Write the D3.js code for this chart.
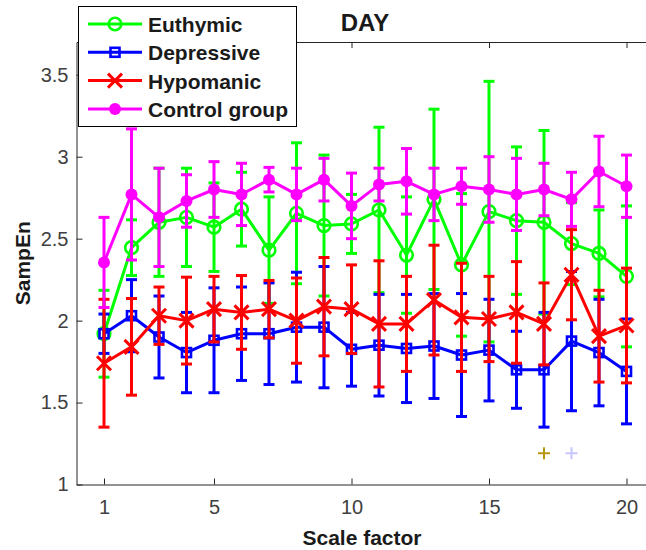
<!DOCTYPE html>
<html>
<head>
<meta charset="utf-8">
<script src="https://cdnjs.cloudflare.com/ajax/libs/d3/7.9.0/d3.min.js"></script>
<style>
  html, body { margin: 0; padding: 0; background: #fff; }
  svg { display: block; font-family: "Liberation Sans", Arial, Helvetica, sans-serif; }
</style>
</head>
<body>
<svg id="chart" width="646" height="550"></svg>
<script>
const W = 646, H = 550;
const AXIS = '#262626';

// scale factors 1..20
const scales = [1, 2, 3, 4, 5, 6, 7, 8, 9, 10, 11, 12, 13, 14, 15, 16, 17, 18, 19, 20];
const xTicks = [1, 5, 10, 15, 20];
const yTicks = [1, 1.5, 2, 2.5, 3, 3.5];

// mean SampEn and error (half length of bar) per group
const euthymicMean = [1.92, 2.445, 2.60, 2.63, 2.57, 2.68, 2.43, 2.655, 2.58, 2.59, 2.675, 2.40, 2.74, 2.34, 2.665, 2.61, 2.60, 2.47, 2.41, 2.27];
const euthymicErr  = [0.265, 0.17, 0.33, 0.30, 0.27, 0.225, 0.325, 0.43, 0.43, 0.18, 0.505, 0.355, 0.55, 0.435, 0.795, 0.45, 0.56, 0.25, 0.265, 0.43];
const depressiveMean = [1.92, 2.03, 1.90, 1.805, 1.88, 1.92, 1.92, 1.96, 1.96, 1.825, 1.85, 1.83, 1.845, 1.79, 1.82, 1.70, 1.70, 1.875, 1.805, 1.69];
const depressiveErr  = [0.12, 0.22, 0.25, 0.245, 0.32, 0.285, 0.31, 0.335, 0.37, 0.225, 0.31, 0.33, 0.32, 0.375, 0.31, 0.235, 0.35, 0.425, 0.325, 0.32];
const hypomanicMean = [1.74, 1.84, 2.03, 2.00, 2.07, 2.05, 2.07, 2.00, 2.085, 2.07, 1.98, 1.98, 2.125, 2.02, 2.01, 2.05, 1.98, 2.28, 1.905, 1.97];
const hypomanicErr  = [0.39, 0.295, 0.175, 0.265, 0.20, 0.225, 0.175, 0.26, 0.30, 0.27, 0.385, 0.29, 0.335, 0.33, 0.26, 0.31, 0.25, 0.275, 0.28, 0.35];
const controlMean = [2.355, 2.77, 2.63, 2.73, 2.80, 2.77, 2.86, 2.77, 2.86, 2.70, 2.83, 2.85, 2.77, 2.82, 2.80, 2.77, 2.80, 2.74, 2.91, 2.82];
const controlErr  = [0.275, 0.40, 0.30, 0.16, 0.17, 0.19, 0.075, 0.16, 0.13, 0.20, 0.10, 0.20, 0.16, 0.11, 0.20, 0.22, 0.16, 0.165, 0.215, 0.19];

// two stray '+' markers near the bottom
const strayX = [17, 18];
const strayY = [1.19, 1.19];
const strayColor = ['#b8970f', '#c8c8ff'];

const groups = [
  { name: 'Euthymic', color: '#00ff00', marker: 'circle', mean: euthymicMean, err: euthymicErr },
  { name: 'Depressive', color: '#0000ff', marker: 'square', mean: depressiveMean, err: depressiveErr },
  { name: 'Hypomanic', color: '#ff0000', marker: 'cross', mean: hypomanicMean, err: hypomanicErr },
  { name: 'Control group', color: '#ff00ff', marker: 'dot', mean: controlMean, err: controlErr },
];

const svg = d3.select('#chart');

const x = d3.scaleLinear().domain([0, 21]).range([76.5, 654]);
const y = d3.scaleLinear().domain([1, 3.7]).range([484.5, 42]);

// axes (ticks point inward, like matlab)
const gx = svg.append('g').attr('transform', `translate(0,${y(1)})`)
  .call(d3.axisBottom(x).tickValues(xTicks).tickFormat(d => String(d))
    .tickSizeInner(-6).tickSizeOuter(0).tickPadding(15));
const gxTop = svg.append('g').attr('transform', `translate(0,${y(3.7)})`)
  .call(d3.axisTop(x).tickValues(xTicks).tickFormat('')
    .tickSizeInner(-6).tickSizeOuter(0));
const gy = svg.append('g').attr('transform', `translate(${x(0)},0)`)
  .call(d3.axisLeft(y).tickValues(yTicks).tickFormat(d => String(d))
    .tickSizeInner(-6).tickSizeOuter(0).tickPadding(8));

[gx, gxTop, gy].forEach(g => {
  g.select('.domain').attr('stroke', AXIS).attr('stroke-width', 1);
  g.selectAll('.tick line').attr('stroke', AXIS).attr('stroke-width', 1);
  g.selectAll('.tick text').attr('fill', '#404040').style('font-size', '20px')
    .style('font-family', '"Liberation Sans", Arial, sans-serif');
});

// title and labels
svg.append('text').attr('x', 365).attr('y', 31).attr('text-anchor', 'middle')
  .attr('font-weight', 'bold').attr('font-size', 24).attr('fill', '#1a1a1a').text('DAY');
svg.append('text').attr('x', 362).attr('y', 545).attr('text-anchor', 'middle')
  .attr('font-weight', 'bold').attr('font-size', 21).attr('fill', '#1a1a1a').text('Scale factor');
svg.append('text').attr('transform', `translate(30,${(y(1) + y(3.7)) / 2}) rotate(-90)`)
  .attr('text-anchor', 'middle').attr('font-weight', 'bold').attr('font-size', 21)
  .attr('fill', '#1a1a1a').text('SampEn');

function drawMarker(sel, type, color) {
  if (type === 'circle') {
    sel.append('circle').attr('r', 6.3).attr('fill', 'none')
      .attr('stroke', color).attr('stroke-width', 2.6);
  } else if (type === 'dot') {
    sel.append('circle').attr('r', 6).attr('fill', color);
  } else if (type === 'square') {
    sel.append('rect').attr('x', -4.5).attr('y', -4.5).attr('width', 9).attr('height', 9)
      .attr('fill', 'none').attr('stroke', color).attr('stroke-width', 2.6);
  } else if (type === 'cross') {
    sel.append('path').attr('d', 'M-7,-7L7,7M-7,7L7,-7')
      .attr('stroke', color).attr('stroke-width', 3).attr('fill', 'none');
  }
}

const plot = svg.append('g');
const CAP = 5.5;

groups.forEach(grp => {
  const rows = scales.map((s, i) => ({ s, m: grp.mean[i], e: grp.err[i] }));
  const g = plot.append('g');

  // error bars
  const eb = g.selectAll('g.eb').data(rows).join('g').attr('class', 'eb')
    .attr('stroke', grp.color).attr('stroke-width', 3).attr('fill', 'none');
  eb.append('line')
    .attr('x1', d => x(d.s)).attr('x2', d => x(d.s))
    .attr('y1', d => y(d.m + d.e)).attr('y2', d => y(d.m - d.e));
  eb.append('line')
    .attr('x1', d => x(d.s) - CAP).attr('x2', d => x(d.s) + CAP)
    .attr('y1', d => y(d.m + d.e)).attr('y2', d => y(d.m + d.e));
  eb.append('line')
    .attr('x1', d => x(d.s) - CAP).attr('x2', d => x(d.s) + CAP)
    .attr('y1', d => y(d.m - d.e)).attr('y2', d => y(d.m - d.e));

  // mean line
  g.append('path').datum(rows)
    .attr('d', d3.line().x(d => x(d.s)).y(d => y(d.m)))
    .attr('fill', 'none').attr('stroke', grp.color).attr('stroke-width', 3)
    .attr('stroke-linejoin', 'round');

  g.selectAll('g.mk').data(rows).join('g').attr('class', 'mk')
    .attr('transform', d => `translate(${x(d.s)},${y(d.m)})`)
    .each(function () { drawMarker(d3.select(this), grp.marker, grp.color); });
});

// stray plus markers
strayX.forEach((sx, i) => {
  plot.append('path')
    .attr('d', `M${x(sx) - 6},${y(strayY[i])}h12M${x(sx)},${y(strayY[i]) - 6}v12`)
    .attr('stroke', strayColor[i]).attr('stroke-width', 2).attr('fill', 'none');
});

// legend
const leg = svg.append('g');
leg.append('rect').attr('x', 78.5).attr('y', 6.5).attr('width', 218).attr('height', 120)
  .attr('fill', '#fff').attr('stroke', '#000').attr('stroke-width', 1);
const legY = [24, 52.3, 80.6, 109];
groups.forEach((grp, i) => {
  const row = leg.append('g').attr('transform', `translate(0,${legY[i]})`);
  row.append('line').attr('x1', 88).attr('x2', 142).attr('y1', 0).attr('y2', 0)
    .attr('stroke', grp.color).attr('stroke-width', 3);
  drawMarker(row.append('g').attr('transform', 'translate(115,0)'), grp.marker, grp.color);
  row.append('text').attr('x', 148).attr('y', 8).attr('font-weight', 'bold')
    .attr('font-size', 21).attr('fill', '#1a1a1a').text(grp.name);
});
</script>
</body>
</html>
